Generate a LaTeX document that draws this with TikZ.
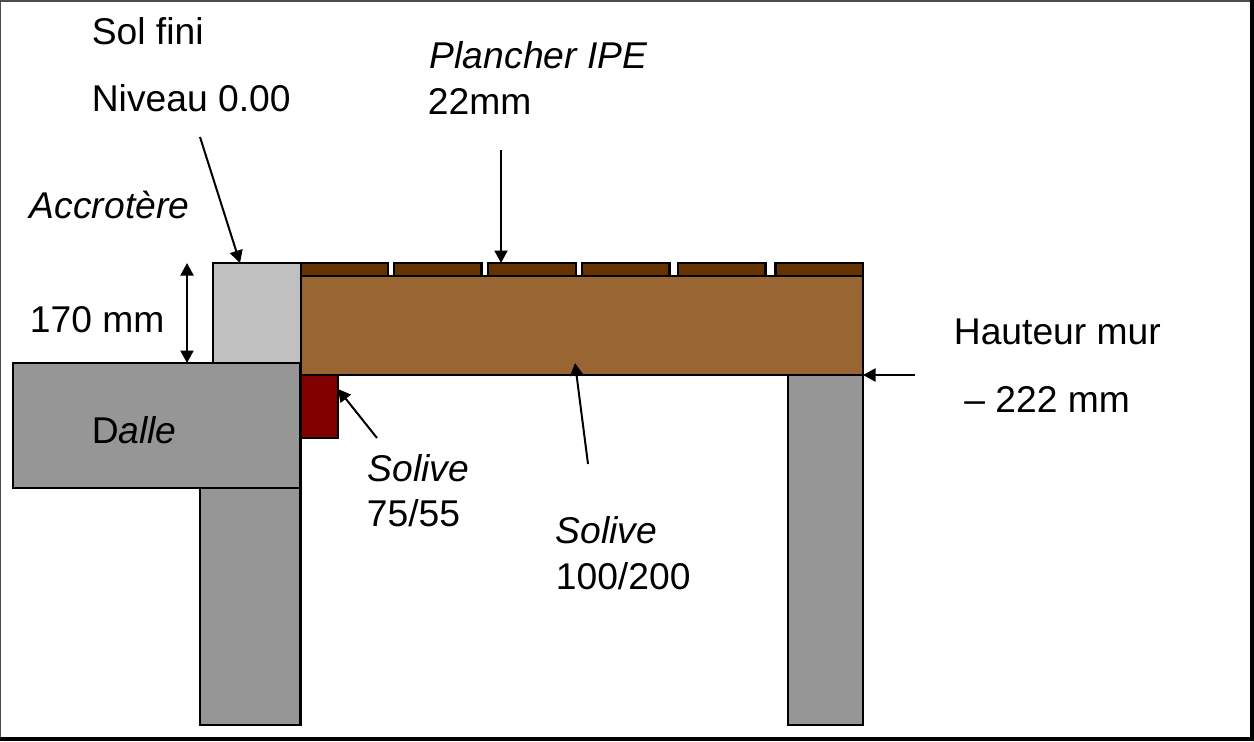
\documentclass[tikz,border=0pt]{standalone}
\usepackage{fontspec}
\setmainfont{Liberation Sans}
\usetikzlibrary{arrows.meta}
\definecolor{plankbrown}{HTML}{663300}
\definecolor{joistbrown}{HTML}{996633}
\definecolor{concretegrey}{HTML}{969696}
\definecolor{upstandgrey}{HTML}{C0C0C0}
\definecolor{ledgerred}{HTML}{800000}
\tikzset{
	part/.style={draw=black, line width=0.045cm},
	pointer/.style={-{Triangle[length=0.25cm,width=0.26cm]}, line width=0.04cm},
	label/.style={anchor=base west, inner sep=0, font=\fontsize{21.2}{25}\selectfont},
}

\begin{document}
\begin{tikzpicture}[x=0.02cm, y=-0.02cm]
	%%%%% FRAME %%%%%
	\useasboundingbox (0, 0) rectangle (1254, 741);
	\fill[white] (0, 0) rectangle (1254, 741);
	\fill[black!70] (0, 0) rectangle (1254, 1.5);
	\fill[black!70] (0, 0) rectangle (1.5, 741);
	\fill[black] (1250, 0) rectangle (1254, 741);
	\fill[black] (0, 737) rectangle (1254, 741);
	
	%%%%% STRUCTURE %%%%%
	\draw[part, fill=upstandgrey] (213, 263) rectangle (301, 363);
	\draw[part, fill=joistbrown] (301, 276) rectangle (863, 375);
	\foreach \xa/\xb in {301/388, 394/481.5, 488/576, 582/669.5, 678/765.5, 775.5/863}
		\draw[part, fill=plankbrown] (\xa, 263) rectangle (\xb, 276);
	\draw[part, fill=concretegrey] (200, 488) rectangle (300.5, 725);
	\draw[part, fill=concretegrey] (13, 363) rectangle (300.5, 488);
	\draw[part, fill=concretegrey] (788, 375) rectangle (863, 725);
	\draw[part, fill=ledgerred] (301, 375) rectangle (338, 438);
	
	%%%%% LABELS %%%%%
	\node[label] (solfini) at (91.5, 44) {Sol fini};
	\node[label] (niveau) at (91.5, 111) {Niveau 0.00};
	\node[label] (plancher) at (429.5, 68) {\itshape Plancher IPE};
	\node[label] (planchermm) at (427.5, 114) {22mm};
	\node[label] (accrotere) at (29.5, 218) {\itshape Accrotère};
	\node[label] (hauteur) at (29.5, 332) {170 mm};
	\node[label] (dalle) at (91.5, 443) {D\textit{alle}};
	\node[label] (solivea) at (367.5, 481) {\itshape Solive};
	\node[label] (soliveasize) at (366.5, 526) {75/55};
	\node[label] (soliveb) at (555.5, 543) {\itshape Solive};
	\node[label] (solivebsize) at (555.5, 589) {100/200};
	\node[label] (mur) at (953.5, 344) {Hauteur mur};
	\node[label] (murmm) at (964, 412) {– 222 mm};
	
	%%%%% ARROWS %%%%%
	\coordinate (niveaufrom) at (200, 137);
	\coordinate (niveauto) at (240, 263);
	\coordinate (plancherfrom) at (501, 150);
	\coordinate (plancherto) at (501, 263);
	\coordinate (hauteurtop) at (187, 263);
	\coordinate (hauteurbot) at (187, 363);
	\coordinate (soliveafrom) at (377, 438);
	\coordinate (soliveato) at (338, 389);
	\coordinate (solivebfrom) at (588, 464);
	\coordinate (solivebto) at (575, 363);
	\coordinate (murfrom) at (915, 375);
	\coordinate (murto) at (863, 375);
	\draw[pointer] (niveaufrom) -- (niveauto);
	\draw[pointer] (plancherfrom) -- (plancherto);
	\draw[pointer, {Triangle[length=0.25cm,width=0.26cm]}-{Triangle[length=0.25cm,width=0.26cm]}] (hauteurtop) -- (hauteurbot);
	\draw[pointer] (soliveafrom) -- (soliveato);
	\draw[pointer] (solivebfrom) -- (solivebto);
	\draw[pointer] (murfrom) -- (murto);
\end{tikzpicture}
\end{document}
